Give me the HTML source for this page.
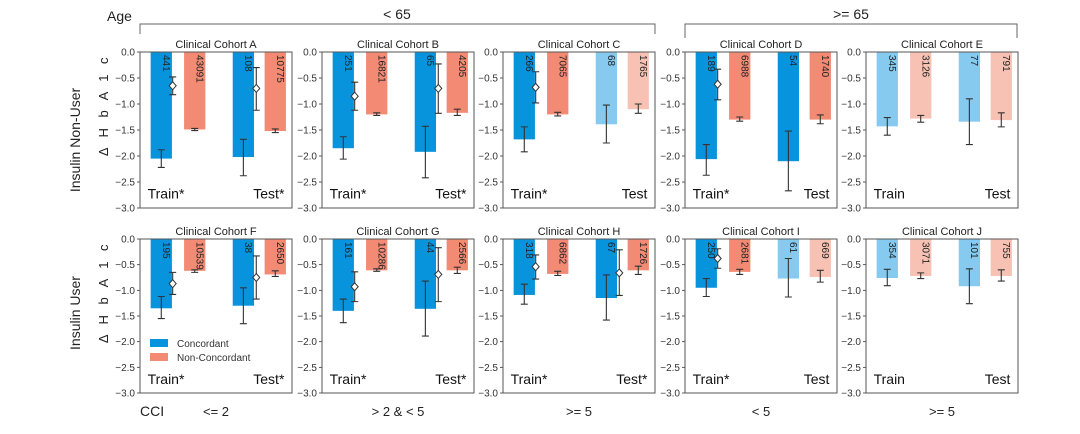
<!DOCTYPE html>
<html><head><meta charset="utf-8"><style>
body{margin:0;background:#fff;}
svg{display:block;font-family:"Liberation Sans","DejaVu Sans",sans-serif;}
</style></head><body>
<svg id="chart" width="1080" height="434" viewBox="0 0 1080 434" xmlns="http://www.w3.org/2000/svg"></svg>
<script>
// ---- data ----
const cohorts = ["A","B","C","D","E","F","G","H","I","J"];
const groupLabels = [["Train*","Test*"],["Train*","Test*"],["Train*","Test"],["Train*","Test"],["Train","Test"],["Train*","Test*"],["Train*","Test*"],["Train*","Test*"],["Train*","Test"],["Train","Test"]];
// concordant means [train, test]
const concMean = [[-2.05,-2.02],[-1.85,-1.92],[-1.68,-1.39],[-2.06,-2.10],[-1.43,-1.34],[-1.35,-1.30],[-1.40,-1.36],[-1.09,-1.15],[-0.95,-0.77],[-0.76,-0.92]];
const concLo = [[-2.22,-2.38],[-2.06,-2.42],[-1.92,-1.75],[-2.37,-2.67],[-1.60,-1.78],[-1.55,-1.65],[-1.63,-1.89],[-1.27,-1.58],[-1.12,-1.13],[-0.91,-1.26]];
const concHi = [[-1.88,-1.68],[-1.63,-1.43],[-1.44,-1.02],[-1.78,-1.52],[-1.26,-0.90],[-1.12,-0.95],[-1.17,-0.82],[-0.88,-0.70],[-0.77,-0.38],[-0.59,-0.58]];
const nonMean = [[-1.49,-1.52],[-1.20,-1.17],[-1.20,-1.10],[-1.30,-1.30],[-1.28,-1.31],[-0.62,-0.69],[-0.61,-0.61],[-0.68,-0.61],[-0.64,-0.74],[-0.72,-0.72]];
const nonLo = [[-1.51,-1.55],[-1.22,-1.22],[-1.23,-1.18],[-1.33,-1.38],[-1.35,-1.44],[-0.65,-0.73],[-0.63,-0.67],[-0.71,-0.69],[-0.69,-0.84],[-0.77,-0.82]];
const nonHi = [[-1.47,-1.48],[-1.17,-1.10],[-1.16,-1.00],[-1.25,-1.21],[-1.22,-1.17],[-0.60,-0.62],[-0.58,-0.55],[-0.63,-0.53],[-0.59,-0.61],[-0.66,-0.60]];
// difference markers (null = none)
const diffMean = [[-0.65,-0.70],[-0.85,-0.70],[-0.68,null],[-0.62,null],[null,null],[-0.87,-0.75],[-0.93,-0.69],[-0.54,-0.66],[-0.38,null],[null,null]];
const diffLo = [[-0.82,-1.12],[-1.12,-1.18],[-0.98,null],[-0.92,null],[null,null],[-1.08,-1.17],[-1.22,-1.22],[-0.78,-1.10],[-0.57,null],[null,null]];
const diffHi = [[-0.48,-0.30],[-0.58,-0.23],[-0.38,null],[-0.33,null],[null,null],[-0.65,-0.33],[-0.64,-0.17],[-0.31,-0.21],[-0.19,null],[null,null]];
const concN = [["441","108"],["251","65"],["266","68"],["189","54"],["345","77"],["195","38"],["161","44"],["318","67"],["250","61"],["354","101"]];
const nonN = [["43091","10775"],["16821","4205"],["7065","1765"],["6988","1740"],["3126","791"],["10539","2650"],["10286","2566"],["6862","1726"],["2681","669"],["3071","755"]];
const faded = [[false,false],[false,false],[false,true],[false,false],[true,true],[false,false],[false,false],[false,false],[false,true],[true,true]];
const yTicks = [0,-0.5,-1.0,-1.5,-2.0,-2.5,-3.0];
const cciLabels = ["<= 2","> 2 & < 5",">= 5","< 5",">= 5"];

const NS="http://www.w3.org/2000/svg";
const svg=document.getElementById('chart');
function el(tag,attrs,parent){const e=document.createElementNS(NS,tag);for(const k in attrs)e.setAttribute(k,attrs[k]);(parent||svg).appendChild(e);return e;}
function txt(s,attrs,parent){const e=el('text',attrs,parent);e.textContent=s;return e;}

const colLeft=[140,322,503,685,866];
const PW=152;
const rowTop=[52,239], rowH=[156,154];
const COL={cb:"#0894dd",cr:"#f28a74",lb:"#86caf0",lr:"#f7c2b4"};

let t;
t=txt("Age",{x:107,y:21,"font-size":14,fill:"#222"});

let br=el('path',{d:"M140,34 V24 H655 V34",fill:"none",stroke:"#666","stroke-width":1});

t=txt("< 65",{x:397,y:19,"font-size":14,"text-anchor":"middle",fill:"#222"});

br=el('path',{d:"M685,38 V24 H1017 V38",fill:"none",stroke:"#666","stroke-width":1});

t=txt(">= 65",{x:851,y:19,"font-size":14,"text-anchor":"middle",fill:"#222"});


t=txt("Insulin Non-User",{transform:"translate(80,140) rotate(-90)","font-size":14,"text-anchor":"middle",fill:"#222"});

t=txt("Insulin User",{transform:"translate(80,313) rotate(-90)","font-size":14,"text-anchor":"middle",fill:"#222"});

for(let r=0;r<2;r++){
  t=txt("Δ H b A 1 c",{transform:`translate(108,${rowTop[r]+53}) rotate(-90)`,"font-size":13,"letter-spacing":"3.5","text-anchor":"middle",fill:"#222"});
  
}
t=txt("CCI",{x:140,y:416,"font-size":14,fill:"#222"});

cciLabels.forEach((s,i)=>{
  const tt=txt(s,{x:colLeft[i]+PW/2,y:416,"font-size":13,"text-anchor":"middle",fill:"#222"});
  
  
});

cohorts.forEach((c,ci)=>{
  const r=ci<5?0:1, col=ci%5;
  const x0=colLeft[col], y0=rowTop[r], h=rowH[r];
  const g=el('g',{});
  
  
  const ys=v=>y0+(-v/3)*h;
  const xs=f=>x0+f*PW;
  let tl=txt("Clinical Cohort "+c,{x:x0+PW/2,y:y0-4,"font-size":11,"text-anchor":"middle",fill:"#222"},g);
  
  yTicks.forEach(v=>{
    const tk=el('line',{x1:x0-3,x2:x0,y1:ys(v),y2:ys(v),stroke:"#333","stroke-width":0.8},g);
    
    const lb=txt((v===0?"0.0":v.toFixed(1).replace("-","−")),{x:x0-5,y:ys(v)+3.5,"font-size":10,"text-anchor":"end",fill:"#333"},g);
    
  });
  const barW=0.14;
  const pos=[[0.07,0.29,0.215],[0.61,0.82,0.765]];
  for(let k=0;k<2;k++){
    const fd=faded[ci][k];
    const bx=xs(pos[k][0]);
    const b=el('rect',{x:bx,y:y0,width:barW*PW,height:ys(concMean[ci][k])-y0,fill:fd?COL.lb:COL.cb},g);
    
    const rx=xs(pos[k][1]);
    const b2=el('rect',{x:rx,y:y0,width:barW*PW,height:ys(nonMean[ci][k])-y0,fill:fd?COL.lr:COL.cr},g);
    
    [[bx,concLo,concHi],[rx,nonLo,nonHi]].forEach(([xx,lo,hi])=>{
      const cx=xx+barW*PW/2;
      const e=el('path',{d:`M${cx},${ys(lo[ci][k])}V${ys(hi[ci][k])}M${cx-3.5},${ys(lo[ci][k])}h7M${cx-3.5},${ys(hi[ci][k])}h7`,stroke:"#333","stroke-width":1.1,fill:"none"},g);
      
    });
    const n1=txt(concN[ci][k],{transform:`translate(${bx+barW*PW-9},${y0+3}) rotate(90)`,"font-size":10,fill:"#222"},g);
    
    const n2=txt(nonN[ci][k],{transform:`translate(${rx+barW*PW-9},${y0+3}) rotate(90)`,"font-size":10,fill:"#222"},g);
    
    if(diffMean[ci][k]!==null){
      const dx=xs(pos[k][2]);
      const de=el('path',{d:`M${dx},${ys(diffLo[ci][k])}V${ys(diffHi[ci][k])}M${dx-3.5},${ys(diffLo[ci][k])}h7M${dx-3.5},${ys(diffHi[ci][k])}h7`,stroke:"#333","stroke-width":1.1,fill:"none"},g);
      
      const dy=ys(diffMean[ci][k]);
      const dm=el('path',{d:`M${dx},${dy-4}L${dx+3.5},${dy}L${dx},${dy+4}L${dx-3.5},${dy}Z`,fill:"#fff",stroke:"#333","stroke-width":1},g);
      
    }
  }
  const l1=txt(groupLabels[ci][0],{x:xs(0.05),y:ys(-2.82),"font-size":14,fill:"#111"},g);
  
  const l2=txt(groupLabels[ci][1],{x:xs(0.95),y:ys(-2.82),"font-size":14,"text-anchor":"end",fill:"#111"},g);
  
  const fr=el('rect',{x:x0,y:y0,width:PW,height:h,fill:"none",stroke:"#555","stroke-width":1},g);
  
  if(ci===5){
    const lg=el('g',{},g);
    
    let r1=el('rect',{x:150,y:339,width:18,height:8,fill:COL.cb},lg);
    
    let t1=txt("Concordant",{x:177,y:347,"font-size":10,fill:"#333"},lg);
    
    let r2=el('rect',{x:150,y:353,width:18,height:8,fill:COL.cr},lg);
    
    let t2=txt("Non-Concordant",{x:177,y:361,"font-size":10,fill:"#333"},lg);
    
  }
});
</script>
</body></html>
